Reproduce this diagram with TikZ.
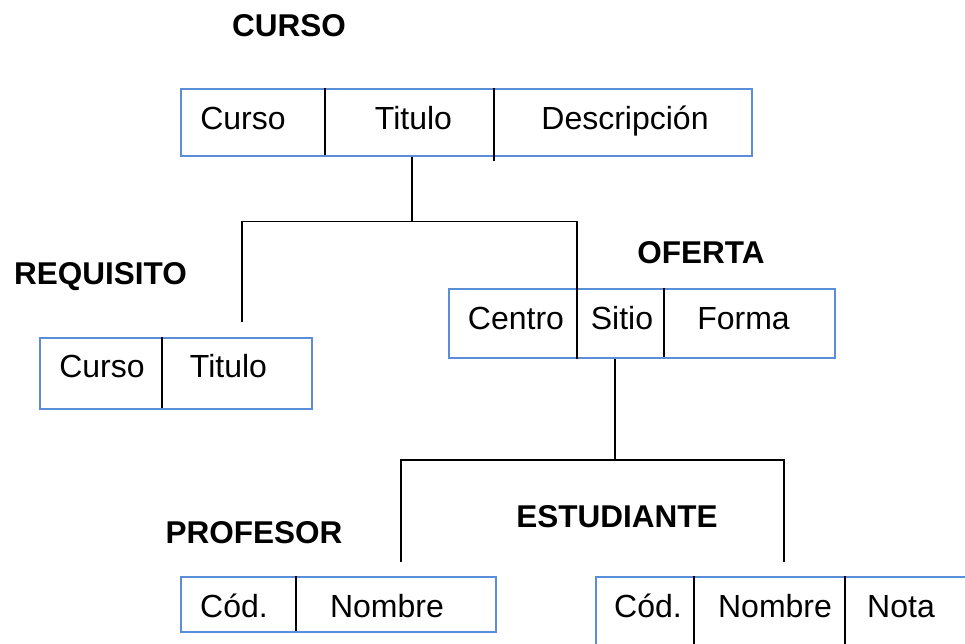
\documentclass[tikz,border=0pt]{standalone}
\usepackage{fontspec}
\setmainfont{Liberation Sans}
\definecolor{boxblue}{RGB}{91,142,216}
\begin{document}
\begin{tikzpicture}[x=1pt,y=-1pt,
  tbl/.style={draw=boxblue, line width=2pt, inner sep=0pt, anchor=north west},
  sepline/.style={draw=black, line width=2pt},
  link/.style={draw=black, line width=1.8pt},
  fld/.style={anchor=base, inner sep=0pt, font=\fontsize{32}{38}\selectfont},
  ttl/.style={anchor=base, inner sep=0pt, font=\fontsize{31.5}{38}\selectfont\bfseries}]
\useasboundingbox (0,0) rectangle (965,643);
\clip (0,0) rectangle (965,643);

% titles
\node[ttl] (tCurso) at (289,36) {CURSO};
\node[ttl] (tReq) at (100.5,284) {REQUISITO};
\node[ttl] (tOf) at (701,263) {OFERTA};
\node[ttl] (tProf) at (254,543) {PROFESOR};
\node[ttl] (tEst) at (617,527) {ESTUDIANTE};

% connectors (drawn first, tables on top)
\coordinate (j1) at (412,221.5);
\coordinate (reqTop) at (242,322);
\coordinate (j2) at (615,460);
\coordinate (profTop) at (401,562);
\coordinate (estTop) at (784,562);

% tables
\node[tbl, minimum width=571pt, minimum height=67pt] (curso) at (180,88) {};
\node[tbl, minimum width=272pt, minimum height=71pt] (req) at (39,337) {};
\node[tbl, minimum width=386pt, minimum height=69pt] (oferta) at (448,288) {};
\node[tbl, minimum width=315pt, minimum height=55pt] (prof) at (180,576) {};
\node[tbl, minimum width=420pt, minimum height=120pt] (est) at (595,576) {};

% dividers
\draw[sepline] (325,88) -- (325,155);
\draw[sepline] (494,88) -- (494,161);
\draw[sepline] (162,337) -- (162,408);
\draw[sepline] (664,288) -- (664,357);
\draw[sepline] (296,576) -- (296,631);
\draw[sepline] (694,576) -- (694,660);
\draw[sepline] (845,576) -- (845,660);

% tree links
\draw[link] (curso.south -| j1) -- (j1);
\draw[link] (reqTop) |- (j1) -| (oferta.south -| 577,0);
\draw[link] (oferta.south -| j2) -- (j2);
\draw[link] (profTop) |- (j2) -| (estTop);

% fields
\node[fld] (c1) at (243,129.5) {Curso};
\node[fld] (c2) at (413.5,129.5) {Titulo};
\node[fld] (c3) at (625,129.5) {Descripción};
\node[fld] (r1) at (102,377.5) {Curso};
\node[fld] (r2) at (228.5,377.5) {Titulo};
\node[fld] (o1) at (516,329) {Centro};
\node[fld] (o2) at (622,329) {Sitio};
\node[fld] (o3) at (743.5,329) {Forma};
\node[fld] (p1) at (234,617) {Cód.};
\node[fld] (p2) at (387,617) {Nombre};
\node[fld] (e1) at (648,617) {Cód.};
\node[fld] (e2) at (775,617) {Nombre};
\node[fld] (e3) at (901,617) {Nota};
\end{tikzpicture}
\end{document}
